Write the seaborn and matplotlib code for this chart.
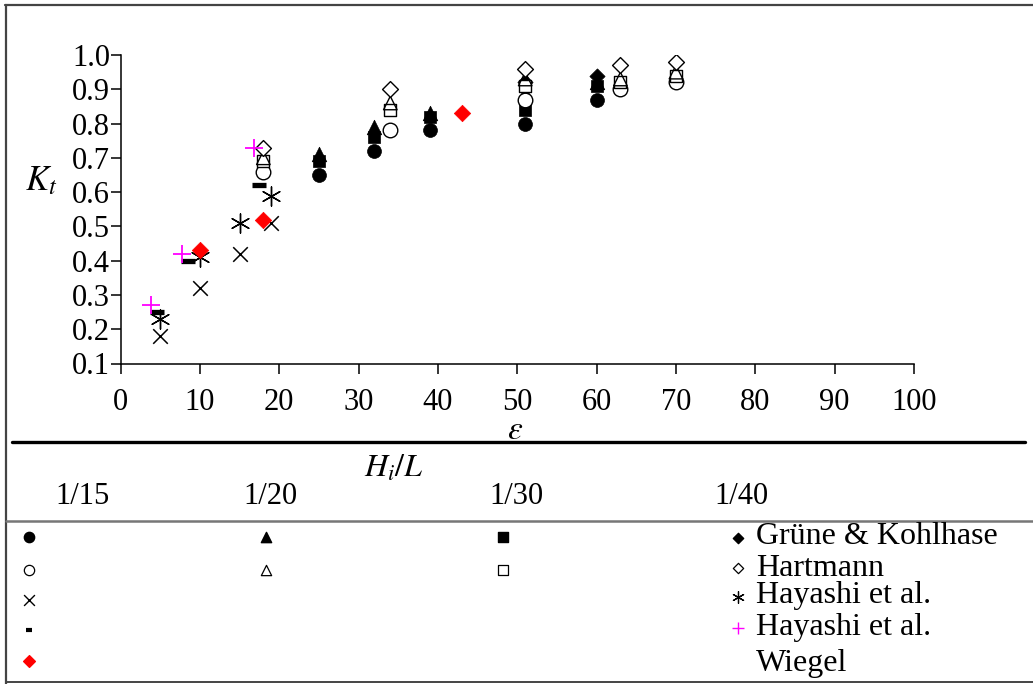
import matplotlib
matplotlib.use("Agg")
import matplotlib.pyplot as plt
import seaborn as sns
from matplotlib.lines import Line2D

# ---------------- data ----------------
# Grüne & Kohlhase (filled markers)
gk_x = [25, 32, 39, 51, 60]
gk_115 = [0.65, 0.72, 0.78, 0.80, 0.87]   # filled circle, Hi/L = 1/15
gk_120 = [0.71, 0.79, 0.83, 0.89, 0.92]   # filled triangle, 1/20
gk_130 = [0.69, 0.76, 0.82, 0.84, 0.91]   # filled square, 1/30
gk_140_x = [51, 60]
gk_140 = [0.92, 0.94]                     # filled diamond, 1/40

# Hartmann (open markers)
ha_x = [18, 34, 51, 63, 70]
ha_115 = [0.66, 0.78, 0.87, 0.90, 0.92]   # open circle
ha_120 = [0.70, 0.86, 0.93, 0.93, 0.95]   # open triangle
ha_130 = [0.69, 0.84, 0.91, 0.92, 0.94]   # open square
ha_140 = [0.73, 0.90, 0.96, 0.97, 0.98]   # open diamond

# Hayashi et al.
hy_x = [5, 10, 15, 19]
hy_cross = [0.18, 0.32, 0.42, 0.51]       # x marker, 1/15
hy_star = [0.23, 0.41, 0.51, 0.59]        # asterisk
hy2_dash_x = [4.6, 8.5, 17.4]
hy2_dash = [0.25, 0.40, 0.62]             # dash, 1/15
hy2_plus_x = [3.9, 7.8, 16.8]
hy2_plus = [0.27, 0.42, 0.73]             # magenta plus

# Wiegel
wi_x = [10, 18, 43]
wi_y = [0.43, 0.52, 0.83]                 # red diamond

hl_labels = ["1/15", "1/20", "1/30", "1/40"]
sources = ["Grüne & Kohlhase", "Hartmann", "Hayashi et al.", "Hayashi et al.", "Wiegel"]
x_ticks = [0, 10, 20, 30, 40, 50, 60, 70, 80, 90, 100]
y_ticks = [0.1, 0.2, 0.3, 0.4, 0.5, 0.6, 0.7, 0.8, 0.9, 1.0]

# ---------------- style ----------------
sns.set_style("ticks")
plt.rcParams["font.family"] = ["Liberation Serif", "DejaVu Serif"]
plt.rcParams["mathtext.fontset"] = "stix"

W, H = 1033, 684
fig = plt.figure(figsize=(W / 100, H / 100), dpi=100)

def fx(x):
    return x / W

def fy(y):
    return 1 - y / H

ax = fig.add_axes([fx(120.5), fy(363.5), fx(914) - fx(120.5), fy(55) - fy(363.5)])
ax.set_xlim(0, 100)
ax.set_ylim(0.1, 1.0)

BL = "black"
S = 100
# filled series
sns.scatterplot(x=gk_x, y=gk_115, marker="o", s=S, color=BL, edgecolor=BL, linewidth=0.5, ax=ax, zorder=3)
sns.scatterplot(x=gk_x, y=gk_130, marker="s", s=S * 0.85, color=BL, edgecolor=BL, linewidth=0.5, ax=ax, zorder=3)
sns.scatterplot(x=gk_x, y=gk_120, marker="^", s=S * 1.1, color=BL, edgecolor=BL, linewidth=0.5, ax=ax, zorder=3)
sns.scatterplot(x=gk_140_x, y=gk_140, marker="D", s=S * 0.6, color=BL, edgecolor=BL, linewidth=0.5, ax=ax, zorder=3)
# open series
sns.scatterplot(x=ha_x, y=ha_115, marker="o", s=S * 1.1, color="white", edgecolor=BL, linewidth=1.0, ax=ax, zorder=4)
sns.scatterplot(x=ha_x, y=ha_130, marker="s", s=S * 0.8, color="white", edgecolor=BL, linewidth=1.0, ax=ax, zorder=4)
sns.scatterplot(x=ha_x, y=ha_120, marker="^", s=S * 0.95, color="none", edgecolor=BL, linewidth=1.0, ax=ax, zorder=4)
sns.scatterplot(x=ha_x, y=ha_140, marker="D", s=S * 0.65, color="white", edgecolor=BL, linewidth=1.0, ax=ax, zorder=4)
# Hayashi
sns.scatterplot(x=hy_x, y=hy_cross, marker="x", s=S * 1.1, color=BL, linewidth=1.1, ax=ax, zorder=4)
sns.scatterplot(x=hy_x, y=hy_star, marker=(6, 2, 0), s=S * 1.9, color=BL, linewidth=1.0, ax=ax, zorder=4)
sns.scatterplot(x=hy2_dash_x, y=hy2_dash, marker="_", s=S * 1.1, color=BL, linewidth=3.8, ax=ax, zorder=4)
sns.scatterplot(x=hy2_plus_x, y=hy2_plus, marker="+", s=S * 1.6, color="#FF00FF", linewidth=1.3, ax=ax, zorder=5)
# Wiegel
sns.scatterplot(x=wi_x, y=wi_y, marker="D", s=S * 0.7, color="#FF0000", edgecolor="#FF0000", linewidth=0.5, ax=ax, zorder=5)

ax.set_xticks(x_ticks)
ax.set_yticks(y_ticks)
ax.set_xticklabels([str(v) for v in x_ticks])
ax.set_yticklabels([f"{v:.1f}" for v in y_ticks])
ax.tick_params(axis="both", direction="out", length=7, width=1.1, color=BL, labelsize=22, labelcolor=BL)
ax.tick_params(axis="y", pad=0.5)
ax.tick_params(axis="x", pad=11)
sns.despine(ax=ax)
for sp in ("left", "bottom"):
    ax.spines[sp].set_color(BL)
    ax.spines[sp].set_linewidth(1.1)
ax.set_xlabel("")
ax.set_ylabel("")

fig.text(fx(41), fy(182), r"$K_t$", fontsize=25, ha="center", va="center", color=BL)
fig.text(fx(515), fy(431), r"$\varepsilon$", fontsize=24, ha="center", va="center", color=BL)

# ---------------- legend table ----------------
ov = fig.add_axes([0, 0, 1, 1], zorder=-1)
ov.set_xlim(0, W)
ov.set_ylim(H, 0)
ov.axis("off")

# frame lines
fig.add_artist(Line2D([fx(5), fx(1033)], [fy(5), fy(5)], transform=fig.transFigure, color="#444444", lw=1.6))
fig.add_artist(Line2D([fx(6), fx(6)], [fy(5), fy(684)], transform=fig.transFigure, color="#444444", lw=1.6))
fig.add_artist(Line2D([fx(6), fx(1033)], [fy(682), fy(682)], transform=fig.transFigure, color="#444444", lw=1.4))
fig.add_artist(Line2D([fx(12), fx(1025)], [fy(442), fy(442)], transform=fig.transFigure, color=BL, lw=2.4))
fig.add_artist(Line2D([fx(6), fx(1033)], [fy(521), fy(521)], transform=fig.transFigure, color="#777777", lw=1.8))

fig.text(fx(394), fy(469), r"$H_i/L$", fontsize=23, ha="center", va="center", color=BL)
for lab, xc in zip(hl_labels, [82, 270, 516, 741]):
    fig.text(fx(xc), fy(497), lab, fontsize=22, ha="center", va="center", color=BL)

text_y = [537, 568, 596, 627, 664]
for lab, yy in zip(sources, text_y):
    fig.text(fx(756), fy(yy), lab, fontsize=23, ha="left", va="center", color=BL)

rows_y = [537, 570, 600, 630, 661]
rm = [538, 568, 597, 628]
ls = 55
# row 1 filled
ov.scatter([29], [rows_y[0]], marker="o", s=ls, color=BL)
ov.scatter([266], [rows_y[0]], marker="^", s=ls, color=BL)
ov.scatter([503], [rows_y[0]], marker="s", s=ls * 0.85, color=BL)
ov.scatter([738], [rm[0]], marker="D", s=ls * 0.5, color=BL)
# row 2 open
ov.scatter([29], [rows_y[1]], marker="o", s=ls, facecolor="white", edgecolor=BL, lw=0.9)
ov.scatter([266], [rows_y[1]], marker="^", s=ls, facecolor="white", edgecolor=BL, lw=0.9)
ov.scatter([503], [rows_y[1]], marker="s", s=ls * 0.85, facecolor="white", edgecolor=BL, lw=0.9)
ov.scatter([738], [rm[1]], marker="D", s=ls * 0.5, facecolor="white", edgecolor=BL, lw=0.9)
# row 3
ov.scatter([29], [rows_y[2]], marker="x", s=ls * 1.1, color=BL, lw=1.0)
ov.scatter([738], [rm[2]], marker=(6, 2, 0), s=ls * 1.3, color=BL, lw=0.9)
# row 4
ov.scatter([29], [rows_y[3]], marker="_", s=ls * 0.4, color=BL, lw=3.0)
ov.scatter([738], [rm[3]], marker="+", s=ls * 1.4, color="#FF00FF", lw=1.0)
# row 5
ov.scatter([29], [rows_y[4]], marker="D", s=ls * 0.65, color="#FF0000")

fig.savefig("out.png", dpi=100, facecolor="white")
